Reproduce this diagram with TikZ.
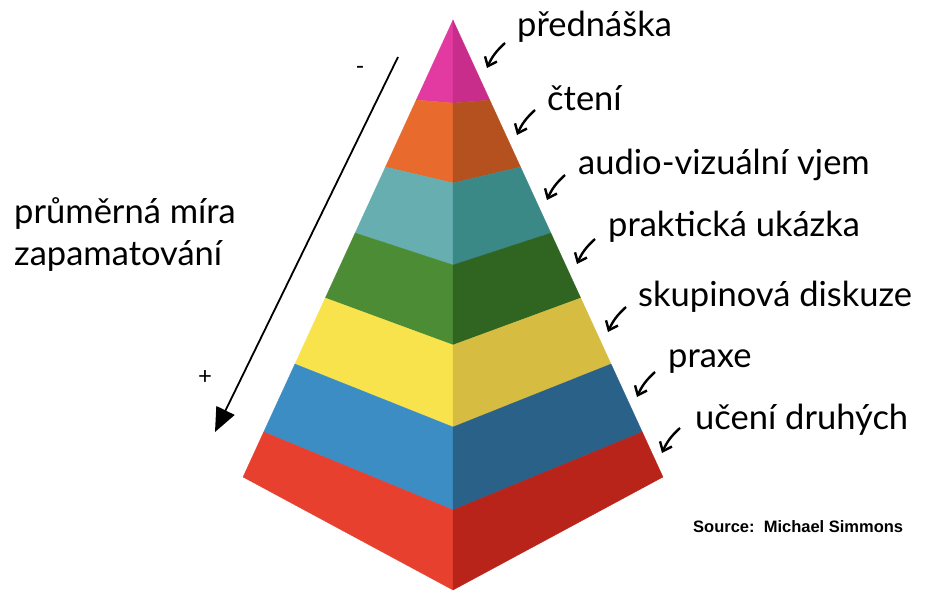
\documentclass[tikz,border=0pt]{standalone}
\usepackage{fontspec}
\setmainfont{Lato}
\newfontfamily\srcfont{Liberation Sans}
\usetikzlibrary{arrows.meta}

\definecolor{pinkL}{HTML}{E23AA0}
\definecolor{pinkR}{HTML}{C92D8C}
\definecolor{oraL}{HTML}{E86A2C}
\definecolor{oraR}{HTML}{B5501F}
\definecolor{teaL}{HTML}{66AEB0}
\definecolor{teaR}{HTML}{3B8987}
\definecolor{greL}{HTML}{4B8C34}
\definecolor{greR}{HTML}{2F6521}
\definecolor{yelL}{HTML}{F8E34C}
\definecolor{yelR}{HTML}{D6BD42}
\definecolor{bluL}{HTML}{3D8DC5}
\definecolor{bluR}{HTML}{2A6189}
\definecolor{redL}{HTML}{E7402F}
\definecolor{redR}{HTML}{B8231A}

\tikzset{
    lbl/.style={anchor=west, inner sep=0pt, font=\fontsize{34.5}{42}\selectfont},
    pointer/.style={line width=2.4pt, -{Straight Barb[length=8pt,width=13pt]}, bend right=12},
    axisarrow/.style={line width=1.8pt, -{Triangle[length=24pt,width=20pt]}}
}

\begin{document}
\begin{tikzpicture}[x=1pt,y=-1pt]
    \useasboundingbox (0,0) rectangle (927,590);

    % pyramid faces
    \foreach \et/\ct/\eb/\cb/\lc/\rc in {20/20/100/103/pinkL/pinkR, 100/103/167/183/oraL/oraR, 167/183/233/265/teaL/teaR, 233/265/298/345/greL/greR, 298/345/364/427/yelL/yelR, 364/427/432/510/bluL/bluR, 432/510/477/590/redL/redR} {
        \path[fill=\lc, draw=\lc, line width=0.3pt] ({453-(\et-20)*0.4595},\et) -- (453,\ct) -- (453,\cb) -- ({453-(\eb-20)*0.4595},\eb) -- cycle;
        \path[fill=\rc, draw=\rc, line width=0.3pt] ({453+(\et-20)*0.4595},\et) -- (453,\ct) -- (453,\cb) -- ({453+(\eb-20)*0.4595},\eb) -- cycle;
    }

    % left axis
    \node[lbl, align=left] (mira) at (14,234) {průměrná míra\\zapamatování};
    \coordinate (axtop) at (398,57);
    \coordinate (axtip) at (215,432);
    \draw[axisarrow] (axtop) -- (axtip);
    \node[font=\fontsize{24}{28}\selectfont] (minus) at (360,70) {-};
    \node[font=\fontsize{24}{28}\selectfont] (plus) at (205,377) {+};

    % labels and pointers
    \foreach \name/\txt/\tx/\ty/\ax/\ay in {pred/přednáška/517/27/487/68, cten/čtení/547/98/517/135, audio/audio-vizuální vjem/578/165/547/200, prakt/praktická ukázka/608/227/577/264, skup/skupinová diskuze/638/297/608/332, prax/praxe/668/362/637/397, uceni/učení druhých/695/420/662/453} {
        \node[lbl] (l\name) at (\tx,\ty) {\txt};
        \coordinate (s\name) at ({\ax+18},{\ay-25});
        \coordinate (e\name) at (\ax,\ay);
        \draw[pointer] (s\name) to (e\name);
    }

    \node[anchor=west, inner sep=0pt, font=\srcfont\bfseries\fontsize{16.5}{19}\selectfont] (source) at (693,527) {Source:\ \ Michael Simmons};
\end{tikzpicture}
\end{document}
